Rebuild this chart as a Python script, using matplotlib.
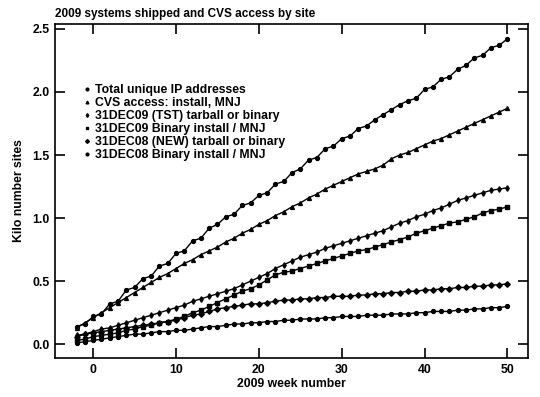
import numpy as np
import matplotlib.pyplot as plt

plt.rcParams['font.family'] = ['Liberation Sans', 'DejaVu Sans']
plt.rcParams['font.weight'] = 'bold'

weeks = list(range(-2, 51))

total_ip = [0.14, 0.16, 0.22, 0.24, 0.32, 0.34, 0.43, 0.45, 0.52, 0.54, 0.62, 0.64,
            0.72, 0.74, 0.82, 0.84, 0.92, 0.95, 1.01, 1.03, 1.10, 1.12, 1.18, 1.20,
            1.27, 1.29, 1.36, 1.39, 1.46, 1.48, 1.55, 1.57, 1.63, 1.65, 1.71, 1.73,
            1.78, 1.82, 1.86, 1.90, 1.93, 1.95, 2.02, 2.04, 2.10, 2.12, 2.18, 2.21,
            2.27, 2.29, 2.35, 2.37, 2.42]
cvs_access = [0.13, 0.17, 0.21, 0.25, 0.29, 0.33, 0.37, 0.41, 0.45, 0.49, 0.53, 0.56,
              0.60, 0.64, 0.67, 0.71, 0.74, 0.77, 0.81, 0.84, 0.88, 0.91, 0.95, 0.98,
              1.02, 1.05, 1.09, 1.12, 1.16, 1.19, 1.23, 1.26, 1.29, 1.32, 1.35, 1.37,
              1.39, 1.42, 1.47, 1.50, 1.52, 1.55, 1.58, 1.61, 1.63, 1.66, 1.69, 1.72,
              1.75, 1.78, 1.81, 1.84, 1.87]
tst_tarball = [0.07, 0.08, 0.10, 0.12, 0.13, 0.15, 0.17, 0.19, 0.21, 0.23, 0.25, 0.27,
               0.29, 0.31, 0.34, 0.36, 0.38, 0.40, 0.42, 0.44, 0.47, 0.50, 0.53, 0.56,
               0.60, 0.63, 0.66, 0.69, 0.71, 0.73, 0.76, 0.78, 0.80, 0.82, 0.84, 0.86,
               0.88, 0.90, 0.93, 0.96, 0.98, 1.01, 1.03, 1.06, 1.08, 1.11, 1.14, 1.16,
               1.18, 1.20, 1.22, 1.23, 1.24]
binary_09 = [0.03, 0.04, 0.06, 0.07, 0.08, 0.09, 0.11, 0.12, 0.14, 0.15, 0.17, 0.18,
             0.20, 0.22, 0.25, 0.27, 0.30, 0.33, 0.36, 0.39, 0.42, 0.44, 0.47, 0.51,
             0.55, 0.57, 0.58, 0.60, 0.62, 0.64, 0.66, 0.68, 0.70, 0.72, 0.74, 0.75,
             0.77, 0.79, 0.81, 0.83, 0.85, 0.88, 0.90, 0.92, 0.94, 0.96, 0.97, 0.99,
             1.01, 1.04, 1.06, 1.07, 1.09]
new_tarball = [0.06, 0.08, 0.09, 0.10, 0.11, 0.12, 0.13, 0.14, 0.15, 0.16, 0.17, 0.18,
               0.19, 0.21, 0.23, 0.24, 0.26, 0.28, 0.29, 0.30, 0.31, 0.32, 0.32, 0.33,
               0.34, 0.35, 0.35, 0.36, 0.36, 0.37, 0.37, 0.38, 0.38, 0.38, 0.39, 0.39,
               0.40, 0.40, 0.41, 0.41, 0.42, 0.42, 0.43, 0.43, 0.44, 0.44, 0.45, 0.45,
               0.46, 0.46, 0.47, 0.47, 0.48]
binary_08 = [0.01, 0.02, 0.03, 0.04, 0.05, 0.06, 0.07, 0.08, 0.08, 0.09, 0.10, 0.10,
             0.11, 0.11, 0.12, 0.13, 0.14, 0.14, 0.15, 0.16, 0.16, 0.17, 0.17, 0.18,
             0.18, 0.19, 0.19, 0.20, 0.20, 0.20, 0.21, 0.21, 0.22, 0.22, 0.22, 0.23,
             0.23, 0.23, 0.24, 0.24, 0.24, 0.25, 0.25, 0.26, 0.26, 0.26, 0.27, 0.27,
             0.28, 0.28, 0.29, 0.29, 0.30]

series = [
    (total_ip, 'o', 'Total unique IP addresses'),
    (cvs_access, '^', 'CVS access: install, MNJ'),
    (tst_tarball, 'd', '31DEC09 (TST) tarball or binary'),
    (binary_09, 's', '31DEC09 Binary install / MNJ'),
    (new_tarball, 'D', '31DEC08 (NEW) tarball or binary'),
    (binary_08, 'o', '31DEC08 Binary install / MNJ'),
]

fig = plt.figure(figsize=(5.4, 3.97), dpi=100)
ax = fig.add_axes([0.102, 0.098, 0.876, 0.842])

for vals, mk, lab in series:
    ax.plot(weeks, vals, color='black', lw=1, marker=mk, ms=2.8, label=lab)

ax.set_xlim(-4.6, 52.5)
ax.set_ylim(-0.11, 2.54)
ax.set_xticks([0, 10, 20, 30, 40, 50])
ax.set_yticks([0.0, 0.5, 1.0, 1.5, 2.0, 2.5])
ax.tick_params(direction='in', length=7, width=1.2, top=True, right=True,
               labelsize=8.8, pad=4)
for s in ax.spines.values():
    s.set_linewidth(1.2)

ax.set_xlabel('2009 week number', fontsize=8.8, fontweight='bold', labelpad=2)
ax.set_ylabel('Kilo number sites', fontsize=8.8, fontweight='bold', labelpad=5)
fig.text(0.102, 0.957, '2009 systems shipped and CVS access by site',
         fontsize=8.5, fontweight='bold')

ax.legend(loc='upper left', bbox_to_anchor=(0.046, 0.837), frameon=False,
          fontsize=8.8, handlelength=0.6, handletextpad=0.4, labelspacing=0.08,
          markerscale=0.7, borderpad=0)
for h in ax.get_legend().get_lines():
    h.set_linestyle('none')

fig.savefig('out.png', dpi=100)
